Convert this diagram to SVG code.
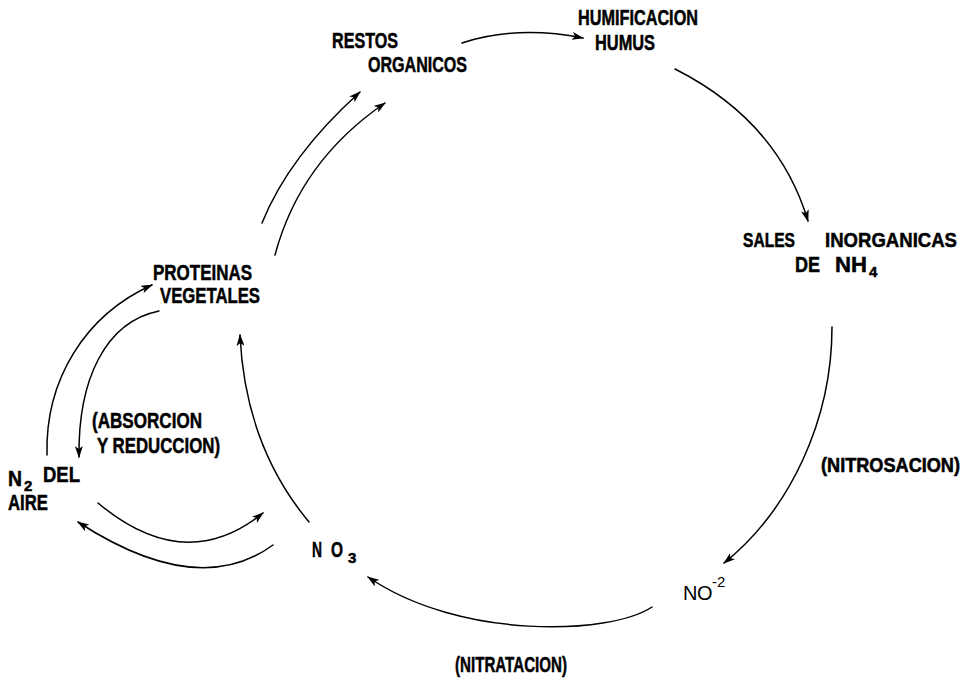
<svg xmlns="http://www.w3.org/2000/svg" width="971" height="680" viewBox="0 0 971 680">
<defs>
<style>
.lbl{font-family:"Liberation Sans","DejaVu Sans",sans-serif;font-weight:bold;font-size:22px;fill:#000;stroke:#000;stroke-width:0.5}
.sm{font-size:20.5px}
.xs{font-size:18px}
.thin{font-family:"Liberation Sans","DejaVu Sans",sans-serif;font-weight:normal;font-size:20px;fill:#000}
.sub{font-size:15px}
.c{fill:none;stroke:#000;stroke-width:1.5;stroke-linecap:round}
</style>
<marker id="ah" viewBox="0 0 12 8" refX="11" refY="4" markerWidth="12" markerHeight="8" markerUnits="userSpaceOnUse" orient="auto">
<path d="M0,0 L12,4 L0,8 L3,4 z" fill="#000"/>
</marker>
</defs>
<rect width="971" height="680" fill="#fff"/>

<g id="connectors">
<path class="c" marker-end="url(#ah)" d="M462,43 Q517,25 583,38"/>
<path class="c" marker-end="url(#ah)" d="M675,69 Q778,121 808,221"/>
<path class="c" marker-end="url(#ah)" d="M832,327 C832,420 790,510 724,563"/>
<path class="c" marker-end="url(#ah)" d="M652,607 C610,635 460,640 368,577"/>
<path class="c" marker-end="url(#ah)" d="M309,522 Q245,445 240,335"/>
<path class="c" marker-end="url(#ah)" d="M98,503 Q185,576 263,513"/>
<path class="c" marker-end="url(#ah)" d="M273,545 Q198,600 78,522"/>
<path class="c" marker-end="url(#ah)" d="M47,455 C45,380 85,315 152,285"/>
<path class="c" marker-end="url(#ah)" d="M159,311 C105,322 78,380 79,457"/>
<path class="c" marker-end="url(#ah)" d="M262,223 Q289,156 360,92"/>
<path class="c" marker-end="url(#ah)" d="M275,255 Q300,161 385,103"/>
</g>

<g id="restos">
<text class="lbl" x="332" y="48" textLength="66" lengthAdjust="spacingAndGlyphs">RESTOS</text>
<text class="lbl" x="368" y="72" textLength="99" lengthAdjust="spacingAndGlyphs">ORGANICOS</text>
</g>

<g id="humus">
<text class="lbl" x="578" y="25" textLength="120" lengthAdjust="spacingAndGlyphs">HUMIFICACION</text>
<text class="lbl" x="595" y="50" textLength="60" lengthAdjust="spacingAndGlyphs">HUMUS</text>
</g>

<g id="sales">
<text class="lbl sm" y="247"><tspan x="743" textLength="52" lengthAdjust="spacingAndGlyphs">SALES</tspan> <tspan x="825" textLength="132" lengthAdjust="spacingAndGlyphs">INORGANICAS</tspan></text>
<text class="lbl" y="272"><tspan x="795" textLength="25" lengthAdjust="spacingAndGlyphs">DE</tspan> <tspan x="835" textLength="32" lengthAdjust="spacingAndGlyphs">NH</tspan><tspan class="sub" x="869" y="277">4</tspan></text>
</g>

<g id="nitrosacion" transform="translate(821,472) scale(1,1.15)">
<text class="lbl xs" x="0" y="0" textLength="139" lengthAdjust="spacingAndGlyphs">(NITROSACION)</text>
</g>

<g id="no2">
<text class="thin" y="600"><tspan x="683">N</tspan><tspan x="697">O</tspan><tspan class="sub" x="712" y="587">-2</tspan></text>
</g>

<g id="nitratacion">
<text class="lbl" x="455" y="672" textLength="112" lengthAdjust="spacingAndGlyphs">(NITRATACION)</text>
</g>

<g id="no3">
<text class="lbl" y="557"><tspan x="312" textLength="10" lengthAdjust="spacingAndGlyphs">N</tspan> <tspan x="331" textLength="12" lengthAdjust="spacingAndGlyphs">O</tspan><tspan class="sub" x="348" y="563">3</tspan></text>
</g>

<g id="proteinas">
<text class="lbl" x="153" y="280" textLength="99" lengthAdjust="spacingAndGlyphs">PROTEINAS</text>
<text class="lbl" x="160" y="303" textLength="100" lengthAdjust="spacingAndGlyphs">VEGETALES</text>
</g>

<g id="absorcion">
<text class="lbl" x="92" y="428" textLength="110" lengthAdjust="spacingAndGlyphs">(ABSORCION</text>
<text class="lbl" x="97" y="453" textLength="123" lengthAdjust="spacingAndGlyphs">Y REDUCCION)</text>
</g>

<g id="n2aire">
<text class="lbl" y="486"><tspan x="8" textLength="14" lengthAdjust="spacingAndGlyphs">N</tspan><tspan class="sub" x="24" y="491">2</tspan> <tspan x="43" y="482" textLength="37" lengthAdjust="spacingAndGlyphs">DEL</tspan></text>
<text class="lbl" x="8" y="510" textLength="40" lengthAdjust="spacingAndGlyphs">AIRE</text>
</g>
</svg>
